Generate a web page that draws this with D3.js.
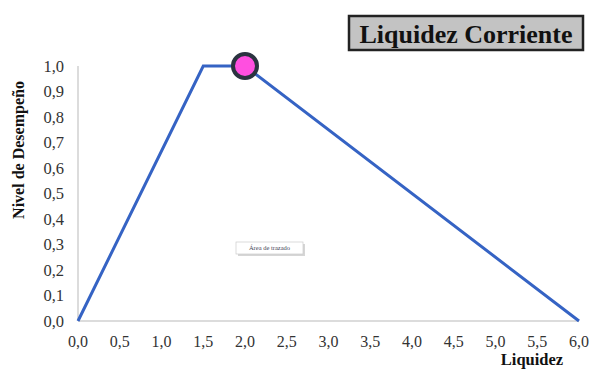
<!DOCTYPE html>
<html><head><meta charset="utf-8">
<script src="https://cdn.jsdelivr.net/npm/d3@7"></script>
<style>body{margin:0;background:#fff}svg{display:block}</style>
</head><body>
<svg id="c" width="590" height="369"></svg>
<script>
const xValues = [0, 1.5, 2, 6];
const yValues = [0, 1, 1, 0];
const markerX = [2];
const markerY = [1];
const xTicks = [0,0.5,1,1.5,2,2.5,3,3.5,4,4.5,5,5.5,6];
const yTicks = [0,0.1,0.2,0.3,0.4,0.5,0.6,0.7,0.8,0.9,1.0];
const title = "Liquidez Corriente";
const xTitle = "Liquidez";
const yTitle = "Nivel de Desempeño";
const hint = "Área de trazado";

const svg = d3.select("#c");
const font = "'Liberation Serif', 'Times New Roman', serif";
const x = d3.scaleLinear().domain([0,6]).range([78,579]);
const y = d3.scaleLinear().domain([0,1]).range([321,66]);
const fmt = d => d.toFixed(1).replace(".", ",");

// axes lines
svg.append("line").attr("x1",x(0)).attr("x2",x(0)).attr("y1",y(1)).attr("y2",y(0)).attr("stroke","#d0d0d0").attr("stroke-width",1.5);
svg.append("line").attr("x1",x(0)).attr("x2",x(6)).attr("y1",y(0)).attr("y2",y(0)).attr("stroke","#d0d0d0").attr("stroke-width",1.5);

// y tick labels
svg.append("g").selectAll("text").data(yTicks).join("text")
  .attr("x",64).attr("y",d=>y(d)).attr("dy","0.35em").attr("text-anchor","end")
  .attr("font-family",font).attr("font-size",16.5).attr("fill","#333").text(fmt);
// x tick labels
svg.append("g").selectAll("text").data(xTicks).join("text")
  .attr("x",d=>x(d)).attr("y",341.5).attr("dy","0.35em").attr("text-anchor","middle")
  .attr("font-family",font).attr("font-size",16).attr("fill","#333").text(fmt);

// titles
svg.append("text").attr("x",532).attr("y",365).attr("text-anchor","middle")
  .attr("font-family",font).attr("font-size",16.5).attr("font-weight","bold").attr("fill","#111").text(xTitle);
svg.append("text").attr("transform","translate(18,150) rotate(-90)").attr("dy","0.35em").attr("text-anchor","middle")
  .attr("font-family",font).attr("font-size",16).attr("font-weight","bold").attr("fill","#111").text(yTitle);

// line
const pts = xValues.map((v,i)=>[v,yValues[i]]);
svg.append("path").datum(pts)
  .attr("d", d3.line().x(d=>x(d[0])).y(d=>y(d[1])))
  .attr("fill","none").attr("stroke","#3563c4").attr("stroke-width",3).attr("stroke-linejoin","miter");

// marker
svg.append("g").selectAll("circle").data(markerX).join("circle")
  .attr("cx",d=>x(d)).attr("cy",(d,i)=>y(markerY[i])).attr("r",12)
  .attr("fill","#ff4fe0").attr("stroke","#2b3340").attr("stroke-width",4);

// hint box
const hg = svg.append("g");
hg.append("rect").attr("x",238).attr("y",244).attr("width",67).attr("height",12).attr("fill","#bbb").attr("opacity",0.6);
hg.append("rect").attr("x",236).attr("y",242).attr("width",67).attr("height",12).attr("fill","#fff").attr("stroke","#ccc").attr("stroke-width",0.7);
hg.append("text").attr("x",269.5).attr("y",248).attr("dy","0.35em").attr("text-anchor","middle")
  .attr("font-family",font).attr("font-size",6.5).attr("fill","#445").text(hint);

// title box
const tg = svg.append("g");
tg.append("rect").attr("x",349).attr("y",16).attr("width",234).attr("height",34)
  .attr("fill","#c3c3c3").attr("stroke","#222").attr("stroke-width",2.5);
tg.append("text").attr("x",466).attr("y",34).attr("dy","0.35em").attr("text-anchor","middle")
  .attr("font-family",font).attr("font-size",26).attr("font-weight","bold").attr("fill","#111").text(title);
</script>
</body></html>
